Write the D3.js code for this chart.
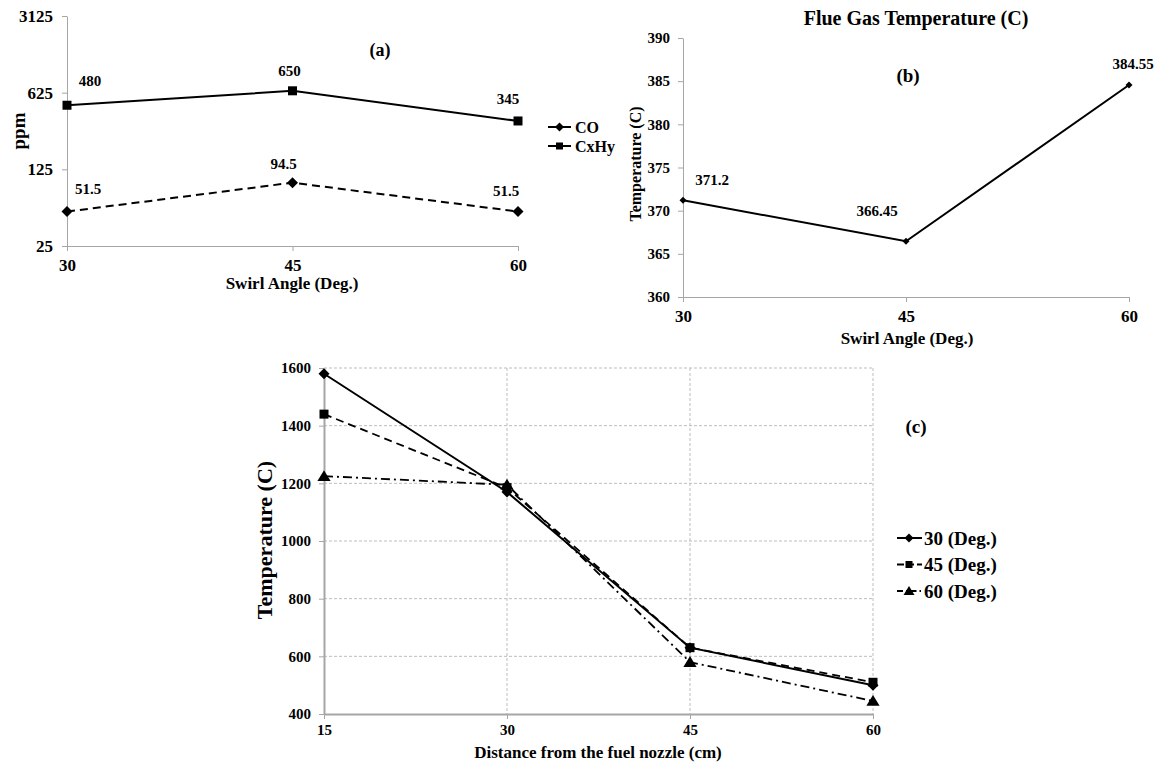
<!doctype html>
<html lang="en">
  <head>
    <meta charset="utf-8">
    <title>Swirl angle charts</title>
    <script src="https://d3js.org/d3.v7.min.js"></script>
    <style>
      body { margin: 0; background: #fff; }
      text { font-family: "Liberation Serif", "Times New Roman", serif; font-weight: bold; fill: #000; }
      .axis path, .axis line { stroke: #a6a6a6; }
      .axis text { font-family: "Liberation Serif", serif; font-weight: bold; fill: #000; }
    </style>
  </head>

  <body>
    <svg width="1162" height="765"></svg>

    <script>
      // ---- data ----
      var swirl = [30, 45, 60];
      var coPpm = [51.5, 94.5, 51.5];
      var cxhyPpm = [480, 650, 345];
      var ppmTicks = [25, 125, 625, 3125];

      var flueTemp = [371.2, 366.45, 384.55];
      var flueTicks = [360, 365, 370, 375, 380, 385, 390];

      var distance = [15, 30, 45, 60];
      var temp30 = [1580, 1170, 630, 500];
      var temp45 = [1440, 1185, 630, 510];
      var temp60 = [1225, 1195, 580, 445];
      var tempTicks = [400, 600, 800, 1000, 1200, 1400, 1600];

      var svg = d3.select('svg');

      var diamond = function(s){
        return 'M0,' + (-s) + 'L' + s + ',0L0,' + s + 'L' + (-s) + ',0Z';
      };
      var square = function(s){
        return 'M' + (-s) + ',' + (-s) + 'H' + s + 'V' + s + 'H' + (-s) + 'Z';
      };
      var triangle = function(s){
        return 'M0,' + (-s) + 'L' + (s * 1.1) + ',' + (s * 0.8) + 'L' + (-s * 1.1) + ',' + (s * 0.8) + 'Z';
      };

      var drawSeries = function(g, xs, ys, x, y, dash, marker, width){
        var pts = xs.map(function(d, i){ return [x(d), y(ys[i])]; });
        g.append('path')
          .attr('d', d3.line()(pts))
          .attr('fill', 'none')
          .attr('stroke', '#000')
          .attr('stroke-width', width)
          .attr('stroke-dasharray', dash);
        g.selectAll(null).data(pts).enter().append('path')
          .attr('transform', function(p){ return 'translate(' + p[0] + ',' + p[1] + ')'; })
          .attr('d', marker)
          .attr('fill', '#000');
        return pts;
      };

      var labels = function(g, pts, vals, offs, size){
        g.selectAll(null).data(pts).enter().append('text')
          .attr('x', function(p, i){ return p[0] + offs[i][0]; })
          .attr('y', function(p, i){ return p[1] + offs[i][1]; })
          .attr('text-anchor', 'middle')
          .attr('dominant-baseline', 'central')
          .style('font-size', size + 'px')
          .text(function(p, i){ return vals[i]; });
      };

      var label = function(g, x, y, size, txt, rot){
        var t = g.append('text')
          .attr('text-anchor', 'middle')
          .attr('dominant-baseline', 'central')
          .style('font-size', size + 'px')
          .text(txt);
        if (rot) t.attr('transform', 'translate(' + x + ',' + y + ') rotate(-90)');
        else t.attr('x', x).attr('y', y);
        return t;
      };

      // ---- (a) CO / CxHy ----
      var ga = svg.append('g');
      var xa = d3.scaleLinear().domain([30, 60]).range([67, 518]);
      var ya = d3.scaleLog().base(5).domain([25, 3125]).range([246, 16]);

      ga.append('g').attr('class', 'axis').attr('transform', 'translate(0,246)')
        .call(d3.axisBottom(xa).tickValues(swirl).tickSize(5).tickSizeOuter(0).tickPadding(8))
        .selectAll('text').style('font-size', '17px');
      ga.append('g').attr('class', 'axis').attr('transform', 'translate(67,0)')
        .call(d3.axisLeft(ya).tickValues(ppmTicks).tickFormat(d3.format('d')).tickSize(5).tickSizeOuter(0).tickPadding(9))
        .selectAll('text').style('font-size', '17px');

      var coPts = drawSeries(ga, swirl, coPpm, xa, ya, '8,5', diamond(5.5), 2);
      var cxPts = drawSeries(ga, swirl, cxhyPpm, xa, ya, null, square(4.5), 2);
      labels(ga, coPts, coPpm, [[21, -23], [-9, -19], [-12, -21]], 15);
      labels(ga, cxPts, cxhyPpm, [[23, -24], [-3, -20], [-10, -22]], 15);

      label(ga, 380, 50, 18, '(a)');
      label(ga, 292, 283, 17, 'Swirl Angle (Deg.)');
      label(ga, 18, 131, 19, 'ppm', true);

      var legA = [['CO', '8,5', diamond(4.5)], ['CxHy', null, square(3.5)]];
      legA.forEach(function(l, i){
        var yy = 127 + i * 19;
        ga.append('line').attr('x1', 548).attr('x2', 571).attr('y1', yy).attr('y2', yy)
          .attr('stroke', '#000').attr('stroke-width', 2);
        ga.append('path').attr('transform', 'translate(559.5,' + yy + ')').attr('d', l[2]);
        ga.append('text').attr('x', 575).attr('y', yy).attr('dominant-baseline', 'central')
          .style('font-size', '16px').text(l[0]);
      });

      // ---- (b) flue gas temperature ----
      var gb = svg.append('g');
      var xb = d3.scaleLinear().domain([30, 60]).range([683, 1129]);
      var yb = d3.scaleLinear().domain([360, 390]).range([297, 38]);

      gb.append('g').attr('class', 'axis').attr('transform', 'translate(0,297)')
        .call(d3.axisBottom(xb).tickValues(swirl).tickSize(5).tickSizeOuter(0).tickPadding(8))
        .selectAll('text').style('font-size', '17px');
      gb.append('g').attr('class', 'axis').attr('transform', 'translate(683,0)')
        .call(d3.axisLeft(yb).tickValues(flueTicks).tickSize(5).tickSizeOuter(0).tickPadding(8))
        .selectAll('text').style('font-size', '15px');

      var flPts = drawSeries(gb, swirl, flueTemp, xb, yb, null, diamond(3.5), 2);
      labels(gb, flPts, flueTemp, [[29, -20], [-29, -30], [4, -21]], 15);

      label(gb, 916, 18, 20, 'Flue Gas Temperature (C)');
      label(gb, 908, 75, 19, '(b)');
      label(gb, 907, 338, 17, 'Swirl Angle (Deg.)');
      label(gb, 635, 164, 16, 'Temperature (C)', true);

      // ---- (c) temperature along the flame ----
      var gc = svg.append('g');
      var xc = d3.scaleLinear().domain([15, 60]).range([324, 873]);
      var yc = d3.scaleLinear().domain([400, 1600]).range([714, 368]);

      gc.append('g').selectAll(null).data(tempTicks.slice(1)).enter().append('line')
        .attr('x1', 324).attr('x2', 873)
        .attr('y1', function(d){ return yc(d); }).attr('y2', function(d){ return yc(d); })
        .attr('stroke', '#bdbdbd').attr('stroke-dasharray', '3,2');
      gc.append('g').selectAll(null).data(distance.slice(1)).enter().append('line')
        .attr('y1', 368).attr('y2', 714)
        .attr('x1', function(d){ return xc(d); }).attr('x2', function(d){ return xc(d); })
        .attr('stroke', '#bdbdbd').attr('stroke-dasharray', '3,2');

      var axC = gc.append('g').attr('class', 'axis').attr('transform', 'translate(0,714)')
        .call(d3.axisBottom(xc).tickValues(distance).tickSize(5).tickSizeOuter(0).tickPadding(5));
      axC.selectAll('text').style('font-size', '15px');
      axC.select('.domain').attr('stroke', '#c8c8c8').attr('stroke-width', 2);
      var ayC = gc.append('g').attr('class', 'axis').attr('transform', 'translate(324,0)')
        .call(d3.axisLeft(yc).tickValues(tempTicks).tickFormat(d3.format('d')).tickSize(5).tickSizeOuter(0).tickPadding(8));
      ayC.selectAll('text').style('font-size', '15px');
      ayC.select('.domain').attr('stroke', '#c8c8c8').attr('stroke-width', 2);

      drawSeries(gc, distance, temp60, xc, yc, '9,4,2,4', triangle(6), 1.8);
      drawSeries(gc, distance, temp45, xc, yc, '8,5', square(4.5), 1.8);
      drawSeries(gc, distance, temp30, xc, yc, null, diamond(5.5), 2);

      label(gc, 916, 426, 19, '(c)');
      label(gc, 598, 752, 17, 'Distance from the fuel nozzle (cm)');
      label(gc, 264, 540, 22, 'Temperature (C)', true);

      var legC = [['30 (Deg.)', null, diamond(4.5)], ['45 (Deg.)', '7,3', square(3.5)], ['60 (Deg.)', '6,3,1.5,3', triangle(5)]];
      legC.forEach(function(l, i){
        var yy = 538 + i * 26.5;
        gc.append('line').attr('x1', 897).attr('x2', 922).attr('y1', yy).attr('y2', yy)
          .attr('stroke', '#000').attr('stroke-width', 2).attr('stroke-dasharray', l[1]);
        gc.append('path').attr('transform', 'translate(909,' + yy + ')').attr('d', l[2]);
        gc.append('text').attr('x', 924).attr('y', yy).attr('dominant-baseline', 'central')
          .style('font-size', '19px').text(l[0]);
      });
    </script>
  </body>
</html>
